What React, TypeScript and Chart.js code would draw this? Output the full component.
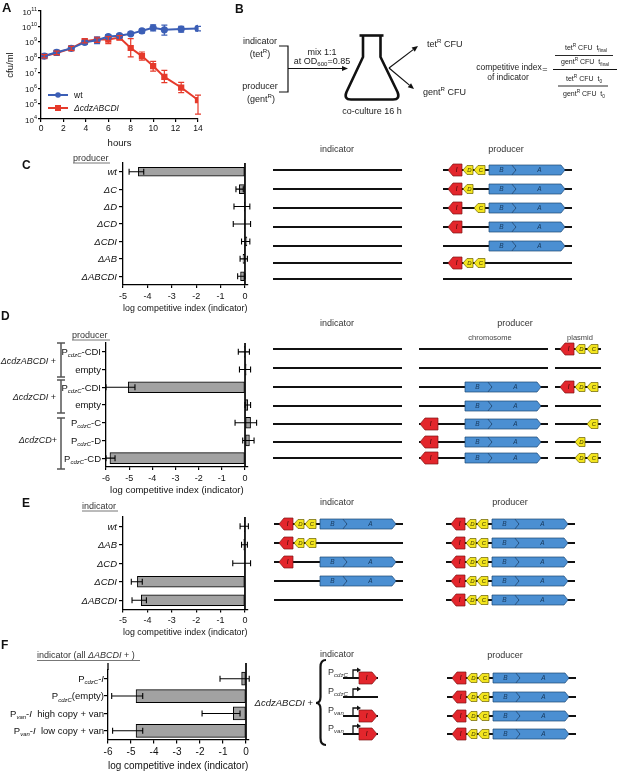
import React, { useEffect, useRef } from 'react';
import { Chart, registerables } from 'chart.js';

Chart.register(...registerables);

const FONT = '"Liberation Sans", Arial, Helvetica, sans-serif';
Chart.defaults.font.family = FONT;
Chart.defaults.color = '#000';

type Seg = { t: string; i?: boolean; sub?: boolean; sup?: boolean };

// ---------------- Panel A data ----------------
const hours = [0.3, 1.4, 2.7, 3.9, 5, 6, 7, 8, 9, 10, 11, 12.5, 14];
const wtCfu = [1.2e8, 2.1e8, 3.8e8, 9.3e8, 1.26e9, 2.2e9, 2.5e9, 3.3e9, 5.2e9, 8.2e9, 6.0e9, 6.7e9, 7.4e9];
const wtLow = [9.1e7, 1.5e8, 2.8e8, 6.9e8, 7.6e8, 1.66e9, 1.86e9, 2.6e9, 3.7e9, 5.2e9, 2.75e9, 4.3e9, 5.2e9];
const wtHigh = [1.5e8, 2.8e8, 5.1e8, 1.26e9, 2.0e9, 3.0e9, 3.2e9, 4.3e9, 6.6e9, 1.26e10, 1.2e10, 1.0e10, 1.0e10];
const mutCfu = [1.2e8, 1.9e8, 3.8e8, 1.1e9, 1.4e9, 1.4e9, 1.9e9, 4.0e8, 1.2e8, 2.7e7, 5.3e6, 1.1e6, 1.7e5];
const mutLow = [9.1e7, 1.5e8, 2.8e8, 8.5e8, 9.3e8, 7.6e8, 1.4e9, 1.07e8, 6.5e7, 1.26e7, 2.3e6, 5.1e5, 2.1e4];
const mutHigh = [1.5e8, 2.5e8, 5.1e8, 1.5e9, 1.8e9, 2.2e9, 2.5e9, 1.6e9, 2.2e8, 5.4e7, 1.4e7, 2.4e6, 3.5e5];
const aYTicks = [1e4, 1e5, 1e6, 1e7, 1e8, 1e9, 1e10, 1e11];
const aYExp = ['4', '5', '6', '7', '8', '9', '10', '11'];
const aSeriesNames = ['wt', 'ΔcdzABCDI'];

// ---------------- Panel C data ----------------
const cCategories = ['wt', 'ΔC', 'ΔD', 'ΔCD', 'ΔCDI', 'ΔAB', 'ΔABCDI'];
const cValues = [-4.37, -0.23, -0.02, -0.02, 0.08, -0.08, -0.18];
const cLow = [-4.75, -0.37, -0.45, -0.48, -0.14, -0.2, -0.3];
const cHigh = [-4.15, -0.07, 0.2, 0.23, 0.2, 0.1, 0.0];
const cTicks = [-5, -4, -3, -2, -1, 0];

// ---------------- Panel D data ----------------
const dCategories = ['PcdzC-CDI', 'empty', 'PcdzC-CDI ', 'empty ', 'PcdzC-C', 'PcdzC-D', 'PcdzC-CD'];
const dValues = [-0.03, 0.05, -5.04, 0.12, 0.24, 0.19, -5.83];
const dLow = [-0.29, -0.24, -6.0, 0.0, -0.43, -0.1, -6.0];
const dHigh = [0.19, 0.24, -4.75, 0.24, 0.5, 0.39, -5.61];
const dTicks = [-6, -5, -4, -3, -2, -1, 0];

// ---------------- Panel E data ----------------
const eCategories = ['wt', 'ΔAB', 'ΔCD', 'ΔCDI', 'ΔABCDI'];
const eValues = [-0.02, -0.05, 0, -4.41, -4.25];
const eLow = [-0.2, -0.14, -0.5, -4.66, -4.63];
const eHigh = [0.14, 0.1, 0.23, -4.21, -4.04];
const eTicks = [-5, -4, -3, -2, -1, 0];

// ---------------- Panel F data ----------------
const fCategories = ['PcdzC-I', 'PcdzC(empty)', 'Pvan-I high copy + van', 'Pvan-I low copy + van'];
const fValues = [-0.19, -4.78, -0.55, -4.78];
const fLow = [-1.13, -5.84, -1.91, -5.8];
const fHigh = [0.14, -4.49, -0.26, -4.49];
const fTicks = [-6, -5, -4, -3, -2, -1, 0];

const AXIS_TITLE = 'log competitive index (indicator)';

// rich tick labels
const cRich: Seg[][] = cCategories.map((c) => [{ t: c, i: true }]);
const eRich: Seg[][] = eCategories.map((c) => [{ t: c, i: true }]);
const dRich: Seg[][] = [
  [{ t: 'P' }, { t: 'cdzC', i: true, sub: true }, { t: '-CDI' }],
  [{ t: 'empty' }],
  [{ t: 'P' }, { t: 'cdzC', i: true, sub: true }, { t: '-CDI' }],
  [{ t: 'empty' }],
  [{ t: 'P' }, { t: 'cdzC', i: true, sub: true }, { t: '-C' }],
  [{ t: 'P' }, { t: 'cdzC', i: true, sub: true }, { t: '-D' }],
  [{ t: 'P' }, { t: 'cdzC', i: true, sub: true }, { t: '-CD' }],
];
const fRich: Seg[][] = [
  [{ t: 'P' }, { t: 'cdzC', i: true, sub: true }, { t: '-' }, { t: 'I', i: true }],
  [{ t: 'P' }, { t: 'cdzC', i: true, sub: true }, { t: '(empty)' }],
  [{ t: 'P' }, { t: 'van', i: true, sub: true }, { t: '-' }, { t: 'I', i: true }, { t: '  high copy + van' }],
  [{ t: 'P' }, { t: 'van', i: true, sub: true }, { t: '-' }, { t: 'I', i: true }, { t: '  low copy + van' }],
];

const BLUE = '#3c5fb6';
const RED = '#e63a2b';
const BAR = '#a2a2a2';

// ---------------- plugins ----------------
const errorBarPlugin = {
  id: 'errBars',
  afterDatasetsDraw(chart: any) {
    const ctx = chart.ctx;
    const horiz = chart.options.indexAxis === 'y';
    chart.data.datasets.forEach((ds: any, di: number) => {
      if (!ds.errLow) return;
      const meta = chart.getDatasetMeta(di);
      const vs = horiz ? chart.scales.x : chart.scales.y;
      const cap = ds.errCap || 3;
      ctx.save();
      ctx.strokeStyle = ds.errColor || '#000';
      ctx.lineWidth = ds.errWidth || 1;
      meta.data.forEach((el: any, i: number) => {
        const lo = vs.getPixelForValue(ds.errLow[i]);
        const hi = vs.getPixelForValue(ds.errHigh[i]);
        ctx.beginPath();
        if (horiz) {
          const y = el.y;
          ctx.moveTo(lo, y); ctx.lineTo(hi, y);
          ctx.moveTo(lo, y - cap); ctx.lineTo(lo, y + cap);
          ctx.moveTo(hi, y - cap); ctx.lineTo(hi, y + cap);
        } else {
          const x = el.x;
          ctx.moveTo(x, lo); ctx.lineTo(x, hi);
          ctx.moveTo(x - cap, lo); ctx.lineTo(x + cap, lo);
          ctx.moveTo(x - cap, hi); ctx.lineTo(x + cap, hi);
        }
        ctx.stroke();
      });
      ctx.restore();
    });
  },
};

function zeroLinePlugin(extendTop: number) {
  return {
    id: 'zeroLine',
    afterDatasetsDraw(chart: any) {
      const { ctx, chartArea } = chart;
      const x = chart.scales.x.getPixelForValue(0);
      const top = chartArea.top - extendTop;
      ctx.save();
      ctx.strokeStyle = '#000';
      ctx.lineWidth = 1.7;
      ctx.beginPath();
      ctx.moveTo(x, top);
      ctx.lineTo(x, chartArea.bottom);
      ctx.stroke();
      if (extendTop > 0) {
        ctx.lineWidth = 1.3;
        ctx.beginPath();
        ctx.moveTo(chartArea.left, top);
        ctx.lineTo(chartArea.left, chartArea.top);
        ctx.stroke();
      }
      ctx.restore();
    },
  };
}

function richLabelPlugin(labels: Seg[][], size: number, subSize: number, gap: number) {
  return {
    id: 'richLabels',
    afterDraw(chart: any) {
      const { ctx } = chart;
      const ys = chart.scales.y;
      const right = chart.chartArea.left - gap;
      const fontOf = (s: Seg) => `${s.i ? 'italic ' : ''}${s.sub ? subSize : size}px ${FONT}`;
      ctx.save();
      ctx.fillStyle = '#111';
      ctx.textBaseline = 'alphabetic';
      ctx.textAlign = 'left';
      labels.forEach((segs, i) => {
        const y = ys.getPixelForValue(i);
        let w = 0;
        segs.forEach((s) => { ctx.font = fontOf(s); w += ctx.measureText(s.t).width; });
        let x = right - w;
        segs.forEach((s) => {
          ctx.font = fontOf(s);
          ctx.fillText(s.t, x, y + size * 0.36 + (s.sub ? 2.2 : 0));
          x += ctx.measureText(s.t).width;
        });
      });
      ctx.restore();
    },
  };
}

function logLabelPlugin(ticks: number[], exps: string[]) {
  return {
    id: 'logLabels',
    afterDraw(chart: any) {
      const { ctx } = chart;
      const ys = chart.scales.y;
      const right = chart.chartArea.left - 4;
      ctx.save();
      ctx.fillStyle = '#111';
      ctx.textAlign = 'left';
      ctx.textBaseline = 'alphabetic';
      ticks.forEach((v, i) => {
        const py = ys.getPixelForValue(v);
        ctx.font = `8px ${FONT}`;
        const wb = ctx.measureText('10').width;
        ctx.font = `5.5px ${FONT}`;
        const we = ctx.measureText(exps[i]).width;
        const x0 = right - wb - we;
        ctx.font = `8px ${FONT}`;
        ctx.fillText('10', x0, py + 3.5);
        ctx.font = `5.5px ${FONT}`;
        ctx.fillText(exps[i], x0 + wb, py - 0.5);
      });
      ctx.restore();
    },
  };
}

const legendAPlugin = {
  id: 'legendA',
  afterDraw(chart: any) {
    const { ctx, chartArea } = chart;
    const x0 = chartArea.left + 7;
    const rows = [95, 108];
    chart.data.datasets.forEach((ds: any, i: number) => {
      const y = rows[i];
      ctx.save();
      ctx.strokeStyle = ds.borderColor;
      ctx.fillStyle = ds.borderColor;
      ctx.lineWidth = 2;
      ctx.beginPath();
      ctx.moveTo(x0, y);
      ctx.lineTo(x0 + 20, y);
      ctx.stroke();
      if (ds.pointStyle === 'rect') ctx.fillRect(x0 + 10 - 3, y - 3, 6, 6);
      else { ctx.beginPath(); ctx.arc(x0 + 10, y, 2.8, 0, Math.PI * 2); ctx.fill(); }
      ctx.fillStyle = '#111';
      ctx.font = `${i === 1 ? 'italic ' : ''}8.5px ${FONT}`;
      ctx.textBaseline = 'middle';
      ctx.fillText(aSeriesNames[i], x0 + 26, y + 0.5);
      ctx.restore();
    });
  },
};

// ---------------- configs ----------------
function configA(): any {
  return {
    type: 'line',
    data: {
      datasets: [
        {
          label: aSeriesNames[0],
          data: hours.map((h, i) => ({ x: h, y: wtCfu[i] })),
          borderColor: BLUE, backgroundColor: BLUE, pointBackgroundColor: BLUE, pointBorderColor: BLUE,
          pointStyle: 'circle', pointRadius: 2.6, borderWidth: 2,
          errLow: wtLow, errHigh: wtHigh, errColor: BLUE, errWidth: 1.2, errCap: 3,
        },
        {
          label: aSeriesNames[1],
          data: hours.map((h, i) => ({ x: h, y: mutCfu[i] })),
          borderColor: RED, backgroundColor: RED, pointBackgroundColor: RED, pointBorderColor: RED,
          pointStyle: 'rect', pointRadius: 3, borderWidth: 2,
          errLow: mutLow, errHigh: mutHigh, errColor: RED, errWidth: 1.2, errCap: 3,
        },
      ],
    },
    options: {
      animation: false, responsive: false, maintainAspectRatio: false,
      layout: { padding: { top: 11, right: 17, left: 0, bottom: 0 } },
      plugins: { legend: { display: false }, tooltip: { enabled: false } },
      scales: {
        x: {
          type: 'linear', min: 0, max: 14,
          ticks: { stepSize: 2, font: { size: 8.5, family: FONT }, color: '#111', padding: 2 },
          grid: { drawOnChartArea: false, tickLength: 3, color: '#000', lineWidth: 1.2 },
          border: { color: '#000', width: 1.3 },
          title: { display: true, text: 'hours', font: { size: 9.5, family: FONT }, color: '#111', padding: { top: 0, bottom: 1 } },
          afterFit: (s: any) => { s.height = 31; },
        },
        y: {
          type: 'logarithmic', min: 1e4, max: 1e11,
          afterBuildTicks: (ax: any) => { ax.ticks = aYTicks.map((v) => ({ value: v })); },
          ticks: { display: false },
          grid: { drawOnChartArea: false, tickLength: 3, color: '#000', lineWidth: 1.2 },
          border: { color: '#000', width: 1.3 },
          title: { display: true, text: 'cfu/ml', font: { size: 9.5, family: FONT }, color: '#111', padding: { top: 4.3, bottom: 0 } },
          afterFit: (s: any) => { s.width = 41; },
        },
      },
    },
    plugins: [errorBarPlugin, logLabelPlugin(aYTicks, aYExp), legendAPlugin],
  };
}

function barConfig(p: any): any {
  return {
    type: 'bar',
    data: {
      labels: p.categories,
      datasets: [{
        data: p.values, backgroundColor: BAR, borderColor: '#000', borderWidth: 1,
        borderSkipped: false, barThickness: p.barThickness, clip: false,
        errLow: p.low, errHigh: p.high, errCap: 3, errWidth: 1.1,
      }],
    },
    options: {
      indexAxis: 'y', animation: false, responsive: false, maintainAspectRatio: false,
      layout: { padding: { top: p.padTop, right: p.padRight, left: 0, bottom: 0 } },
      plugins: { legend: { display: false }, tooltip: { enabled: false } },
      scales: {
        x: {
          type: 'linear', min: p.min, max: p.max,
          afterBuildTicks: (ax: any) => { ax.ticks = p.xTicks.map((v: number) => ({ value: v })); },
          ticks: { font: { size: p.tickSize, family: FONT }, color: '#111', padding: p.tickPad },
          grid: { drawOnChartArea: false, tickLength: p.tickLength, color: '#000', lineWidth: 1.2 },
          border: { color: '#000', width: 1.3 },
          title: {
            display: true, text: AXIS_TITLE,
            font: { size: p.titleSize, family: FONT, lineHeight: p.titleLH }, color: '#111',
            padding: { top: 0, bottom: p.titlePadBottom },
          },
          afterFit: (s: any) => { s.height = p.xHeight; },
        },
        y: {
          type: 'category', offset: true,
          ticks: { display: false },
          grid: { drawOnChartArea: false, offset: false, tickLength: 4, color: '#000', lineWidth: 1.2 },
          border: { color: '#000', width: 1.3 },
          afterFit: (s: any) => { s.width = p.yWidth; },
        },
      },
    },
    plugins: [errorBarPlugin, zeroLinePlugin(p.extendTop || 0), richLabelPlugin(p.rich, p.labelSize, p.subSize, p.labelGap)],
  };
}

const configC = () => barConfig({
  categories: cCategories, values: cValues, low: cLow, high: cHigh, rich: cRich, xTicks: cTicks,
  min: -5, max: 0.1, yWidth: 123, padTop: 8, padRight: 14.6, xHeight: 30, barThickness: 9,
  tickSize: 9, tickPad: 3, tickLength: 3, titleSize: 9.5, titleLH: 1.2, titlePadBottom: 1.3,
  labelSize: 9.5, subSize: 6, labelGap: 6,
});
const configD = () => barConfig({
  categories: dCategories, values: dValues, low: dLow, high: dHigh, rich: dRich, xTicks: dTicks,
  min: -6, max: 0.12, yWidth: 106, padTop: 8, padRight: 14.2, xHeight: 30, barThickness: 11,
  tickSize: 9, tickPad: 3, tickLength: 3, titleSize: 9.5, titleLH: 1.2, titlePadBottom: 1.3,
  labelSize: 9.5, subSize: 6, labelGap: 5,
});
const configE = () => barConfig({
  categories: eCategories, values: eValues, low: eLow, high: eHigh, rich: eRich, xTicks: eTicks,
  min: -5, max: 0.1, yWidth: 123, padTop: 8, padRight: 14.6, xHeight: 30.5, barThickness: 11,
  tickSize: 9, tickPad: 3, tickLength: 3, titleSize: 9.5, titleLH: 1.2, titlePadBottom: 1.8,
  labelSize: 9.5, subSize: 6, labelGap: 6,
});
const configF = () => barConfig({
  categories: fCategories, values: fValues, low: fLow, high: fHigh, rich: fRich, xTicks: fTicks,
  min: -6, max: 0.1, yWidth: 108, padTop: 15, padRight: 13.7, xHeight: 31.5, barThickness: 13,
  tickSize: 10, tickPad: 3, tickLength: 4, titleSize: 10, titleLH: 1, titlePadBottom: 0,
  labelSize: 9.5, subSize: 6, labelGap: 4, extendTop: 7,
});

function ChartCanvas({ make, left, top, width, height }: any) {
  const ref = useRef<HTMLCanvasElement>(null);
  useEffect(() => {
    const chart = new Chart(ref.current as HTMLCanvasElement, make());
    return () => chart.destroy();
  }, []);
  return (
    <canvas ref={ref} width={width} height={height}
      style={{ position: 'absolute', left, top, width, height }} />
  );
}

// ---------------- SVG helpers ----------------
function RT({ x, y, segs, size = 9, anchor = 'start', fill = '#222', weight = 'normal' }: any) {
  let cur = 0;
  const spans = segs.map((s: Seg, k: number) => {
    const target = s.sup ? -size * 0.4 : s.sub ? size * 0.25 : 0;
    const dy = target - cur;
    cur = target;
    return (
      <tspan key={k} dy={dy} fontSize={s.sup || s.sub ? size * 0.68 : size} fontStyle={s.i ? 'italic' : 'normal'}>{s.t}</tspan>
    );
  });
  return (
    <text x={x} y={y} fontSize={size} textAnchor={anchor} fill={fill} fontFamily={FONT} fontWeight={weight} style={{ whiteSpace: 'pre' }}>{spans}</text>
  );
}

const GC: any = {
  red: { fill: '#e3262c', stroke: '#7d1414', text: '#3a0606' },
  yellow: { fill: '#f3e51e', stroke: '#6a6000', text: '#3f3900' },
  blue: { fill: '#4b8fd2', stroke: '#1e4874', text: '#17395d' },
};

function GeneL({ x1, x2, y, h, tip, c, letter, fs = 6.5 }: any) {
  const pts = `${x1},${y} ${x1 + tip},${y - h / 2} ${x2},${y - h / 2} ${x2},${y + h / 2} ${x1 + tip},${y + h / 2}`;
  return (
    <g>
      <polygon points={pts} fill={GC[c].fill} stroke={GC[c].stroke} strokeWidth={0.7} />
      <text x={(x1 + tip * 0.7 + x2) / 2} y={y + fs * 0.36} fontSize={fs} fontStyle="italic" textAnchor="middle" fill={GC[c].text} fontFamily={FONT}>{letter}</text>
    </g>
  );
}

function GeneR({ x1, x2, y, h, tip, c, letter, notch = 0, fs = 6.5 }: any) {
  const pts = `${x1},${y - h / 2} ${x2 - tip},${y - h / 2} ${x2},${y} ${x2 - tip},${y + h / 2} ${x1},${y + h / 2} ${x1 + notch},${y}`;
  return (
    <g>
      <polygon points={pts} fill={GC[c].fill} stroke={GC[c].stroke} strokeWidth={0.7} />
      <text x={(x1 + notch + x2 - tip * 0.5) / 2} y={y + fs * 0.36} fontSize={fs} fontStyle="italic" textAnchor="middle" fill={GC[c].text} fontFamily={FONT}>{letter}</text>
    </g>
  );
}

function Cluster({ x0, y, genes, len = 129, iOff = [5, 19] }: any) {
  const has = (g: string) => genes.includes(g);
  return (
    <g>
      <line x1={x0} y1={y} x2={x0 + len} y2={y} stroke="#111" strokeWidth={1.8} />
      {has('B') && <GeneR x1={x0 + 46} x2={x0 + 73} y={y} h={10} tip={4} c="blue" letter="B" />}
      {has('A') && <GeneR x1={x0 + 69} x2={x0 + 122} y={y} h={10} tip={4} notch={4} c="blue" letter="A" />}
      {has('C') && <GeneL x1={x0 + 31} x2={x0 + 42} y={y} h={9} tip={4} c="yellow" letter="C" fs={6} />}
      {has('D') && <GeneL x1={x0 + 20} x2={x0 + 30} y={y} h={9} tip={4} c="yellow" letter="D" fs={6} />}
      {has('I') && <GeneL x1={x0 + iOff[0]} x2={x0 + iOff[1]} y={y} h={12} tip={5} c="red" letter="I" />}
    </g>
  );
}

function Arrow({ x1, y1, x2, y2, w = 1.2, head = 6 }: any) {
  const a = Math.atan2(y2 - y1, x2 - x1);
  const bx = x2 - head * Math.cos(a);
  const by = y2 - head * Math.sin(a);
  const px = 2.6 * Math.sin(a);
  const py = -2.6 * Math.cos(a);
  return (
    <g>
      <line x1={x1} y1={y1} x2={bx} y2={by} stroke="#111" strokeWidth={w} />
      <polygon points={`${x2},${y2} ${bx + px},${by + py} ${bx - px},${by - py}`} fill="#111" />
    </g>
  );
}

function Header({ x, y, segs, x2 }: any) {
  return (
    <g>
      <RT x={x} y={y} segs={segs} size={9} fill="#333" />
      <line x1={x} y1={y + 2.5} x2={x2} y2={y + 2.5} stroke="#777" strokeWidth={1} />
    </g>
  );
}

function Bracket({ x, y1, y2 }: any) {
  return (
    <g stroke="#555" strokeWidth={1.5}>
      <line x1={x} y1={y1} x2={x} y2={y2} />
      <line x1={x - 4} y1={y1} x2={x + 4} y2={y1} />
      <line x1={x - 4} y1={y2} x2={x + 4} y2={y2} />
    </g>
  );
}

function Overlay() {
  const cRows = [170, 189, 208, 227, 246, 263, 279];
  const cProd = [['I', 'D', 'C', 'B', 'A'], ['I', 'D', 'B', 'A'], ['I', 'C', 'B', 'A'], ['I', 'B', 'A'], ['B', 'A'], ['I', 'D', 'C'], []];
  const dRows = [349, 368, 387, 406, 424, 442, 458];
  const dChrom = [[], [], ['B', 'A'], ['B', 'A'], ['I', 'B', 'A'], ['I', 'B', 'A'], ['I', 'B', 'A']];
  const dPlas = [['I', 'D', 'C'], [], ['I', 'D', 'C'], [], ['C'], ['D'], ['D', 'C']];
  const eRows = [524, 543, 562, 581, 600];
  const eInd = [['I', 'D', 'C', 'B', 'A'], ['I', 'D', 'C'], ['I', 'B', 'A'], ['B', 'A'], []];
  const fRows = [678, 697, 716, 734];
  const fProm = ['cdzC', 'cdzC', 'van', 'van'];
  const fHasI = [true, false, true, true];
  const full = ['I', 'D', 'C', 'B', 'A'];
  const hdr = (t: string) => [{ t }];

  return (
    <svg width={617} height={771} style={{ position: 'absolute', left: 0, top: 0, pointerEvents: 'none' }}>
      {/* panel letters */}
      <RT x={2} y={12} segs={hdr('A')} size={13} weight="bold" fill="#111" />
      <RT x={235} y={13} segs={hdr('B')} size={12} weight="bold" fill="#111" />
      <RT x={22} y={169} segs={hdr('C')} size={12} weight="bold" fill="#111" />
      <RT x={1} y={320} segs={hdr('D')} size={12} weight="bold" fill="#111" />
      <RT x={22} y={507} segs={hdr('E')} size={12} weight="bold" fill="#111" />
      <RT x={1} y={649} segs={hdr('F')} size={12} weight="bold" fill="#111" />

      {/* panel B */}
      <RT x={260} y={44} segs={hdr('indicator')} anchor="middle" />
      <RT x={260} y={57} segs={[{ t: '(tet' }, { t: 'R', sup: true }, { t: ')' }]} anchor="middle" />
      <RT x={260} y={89} segs={hdr('producer')} anchor="middle" />
      <RT x={261} y={102} segs={[{ t: '(gent' }, { t: 'R', sup: true }, { t: ')' }]} anchor="middle" />
      <polyline points="279,46 288,46 288,92 279,92" fill="none" stroke="#111" strokeWidth={1.2} />
      <Arrow x1={288} y1={68.5} x2={348} y2={68.5} />
      <RT x={322} y={55} segs={hdr('mix 1:1')} anchor="middle" />
      <RT x={322} y={64} segs={[{ t: 'at OD' }, { t: '600', sub: true }, { t: '=0.85' }]} anchor="middle" />
      <line x1={359.5} y1={35.5} x2={383.5} y2={35.5} stroke="#111" strokeWidth={2.6} />
      <path d="M 363 36 L 363 57 L 346.5 92 Q 343.5 99.5 351 99.5 L 393 99.5 Q 400.5 99.5 397.5 92 L 380.5 57 L 380.5 36"
        fill="none" stroke="#111" strokeWidth={2.6} strokeLinejoin="round" />
      <RT x={372} y={114} segs={hdr('co-culture 16 h')} anchor="middle" />
      <Arrow x1={389} y1={68} x2={418} y2={46} />
      <Arrow x1={389} y1={68} x2={414} y2={89} />
      <RT x={427} y={47} segs={[{ t: 'tet' }, { t: 'R', sup: true }, { t: ' CFU' }]} />
      <RT x={423} y={95} segs={[{ t: 'gent' }, { t: 'R', sup: true }, { t: ' CFU' }]} />
      <RT x={509} y={70} segs={hdr('competitive index')} anchor="middle" size={8.5} />
      <RT x={508} y={80} segs={hdr('of indicator')} anchor="middle" size={8.5} />
      <RT x={545} y={72} segs={hdr('=')} anchor="middle" size={9} />
      <line x1={553} y1={69.5} x2={617} y2={69.5} stroke="#111" strokeWidth={1.1} />
      <RT x={586} y={50} segs={[{ t: 'tet' }, { t: 'R', sup: true }, { t: ' CFU  t' }, { t: 'final', sub: true }]} anchor="middle" size={7} />
      <line x1={555} y1={55.5} x2={613} y2={55.5} stroke="#111" strokeWidth={0.9} />
      <RT x={585} y={64} segs={[{ t: 'gent' }, { t: 'R', sup: true }, { t: ' CFU  t' }, { t: 'final', sub: true }]} anchor="middle" size={7} />
      <RT x={584} y={81} segs={[{ t: 'tet' }, { t: 'R', sup: true }, { t: ' CFU  t' }, { t: '0', sub: true }]} anchor="middle" size={7} />
      <line x1={558} y1={86} x2={608} y2={86} stroke="#111" strokeWidth={0.9} />
      <RT x={584} y={96} segs={[{ t: 'gent' }, { t: 'R', sup: true }, { t: ' CFU  t' }, { t: '0', sub: true }]} anchor="middle" size={7} />

      {/* panel C */}
      <Header x={73} y={160.5} x2={110} segs={hdr('producer')} />
      <RT x={337} y={152} segs={hdr('indicator')} anchor="middle" fill="#333" />
      <RT x={506} y={152} segs={hdr('producer')} anchor="middle" fill="#333" />
      {cRows.map((y, i) => (
        <g key={'c' + i}>
          <line x1={273} y1={y} x2={402} y2={y} stroke="#111" strokeWidth={1.8} />
          <Cluster x0={443} y={y} genes={cProd[i]} />
        </g>
      ))}

      {/* panel D */}
      <Header x={72} y={337.5} x2={110} segs={hdr('producer')} />
      <RT x={56} y={364} segs={[{ t: 'ΔcdzABCDI', i: true }, { t: ' +' }]} anchor="end" size={9} fill="#222" />
      <RT x={56} y={400} segs={[{ t: 'ΔcdzCDI', i: true }, { t: ' +' }]} anchor="end" size={9} fill="#222" />
      <RT x={57} y={443} segs={[{ t: 'ΔcdzCD', i: true }, { t: '+' }]} anchor="end" size={9} fill="#222" />
      <Bracket x={61} y1={343} y2={377} />
      <Bracket x={61} y1={380} y2={413} />
      <Bracket x={61} y1={418} y2={469} />
      <RT x={337} y={326} segs={hdr('indicator')} anchor="middle" fill="#333" />
      <RT x={515} y={326} segs={hdr('producer')} anchor="middle" fill="#333" />
      <RT x={490} y={340} segs={hdr('chromosome')} anchor="middle" size={7.5} fill="#444" />
      <RT x={580} y={340} segs={hdr('plasmid')} anchor="middle" size={7.5} fill="#444" />
      {dRows.map((y, i) => (
        <g key={'d' + i}>
          <line x1={273} y1={y} x2={402} y2={y} stroke="#111" strokeWidth={1.8} />
          <Cluster x0={419} y={y} genes={dChrom[i]} iOff={[1, 19]} />
          <line x1={555} y1={y} x2={601} y2={y} stroke="#111" strokeWidth={1.8} />
          {dPlas[i].includes('C') && <GeneL x1={587} x2={598} y={y} h={9} tip={4} c="yellow" letter="C" fs={6} />}
          {dPlas[i].includes('D') && <GeneL x1={575} x2={585} y={y} h={9} tip={4} c="yellow" letter="D" fs={6} />}
          {dPlas[i].includes('I') && <GeneL x1={560} x2={574} y={y} h={12} tip={5} c="red" letter="I" />}
        </g>
      ))}

      {/* panel E */}
      <Header x={82} y={508.5} x2={118} segs={hdr('indicator')} />
      <RT x={337} y={505} segs={hdr('indicator')} anchor="middle" fill="#333" />
      <RT x={510} y={505} segs={hdr('producer')} anchor="middle" fill="#333" />
      {eRows.map((y, i) => (
        <g key={'e' + i}>
          <Cluster x0={274} y={y} genes={eInd[i]} />
          <Cluster x0={446} y={y} genes={full} />
        </g>
      ))}

      {/* panel F */}
      <Header x={37} y={658} x2={140} segs={[{ t: 'indicator (all ' }, { t: 'ΔABCDI', i: true }, { t: ' + )' }]} />
      <RT x={337} y={657} segs={hdr('indicator')} anchor="middle" fill="#333" />
      <RT x={505} y={658} segs={hdr('producer')} anchor="middle" fill="#333" />
      <RT x={313} y={706} segs={[{ t: 'ΔcdzABCDI', i: true }, { t: ' +' }]} anchor="end" size={9.5} fill="#222" />
      <path d="M 326 660 Q 320.5 660 320.5 667 L 320.5 697 Q 320.5 703 316 703 Q 320.5 703 320.5 709 L 320.5 738 Q 320.5 745 326 745"
        fill="none" stroke="#111" strokeWidth={2.2} />
      {fRows.map((y, i) => (
        <g key={'f' + i}>
          <RT x={328} y={y - 3} segs={[{ t: 'P' }, { t: fProm[i], i: true, sub: true }]} size={9} fill="#333" />
          <line x1={343} y1={y} x2={378} y2={y} stroke="#111" strokeWidth={1.8} />
          <polyline points={`${353},${y} ${353},${y - 8} ${358},${y - 8}`} fill="none" stroke="#111" strokeWidth={1.3} />
          <polygon points={`${361},${y - 8} ${357},${y - 10.5} ${357},${y - 5.5}`} fill="#111" />
          {fHasI[i] && <GeneR x1={359} x2={377} y={y} h={12} tip={5} c="red" letter="I" />}
          <Cluster x0={447} y={y} genes={full} />
        </g>
      ))}
    </svg>
  );
}

export default function App() {
  return (
    <div style={{ position: 'absolute', left: 0, top: 0, width: 617, height: 771, background: '#fff', overflow: 'hidden', fontFamily: FONT }}>
      <ChartCanvas make={configA} left={0} top={0} width={215} height={150} />
      <ChartCanvas make={configC} left={0} top={155} width={262} height={160} />
      <ChartCanvas make={configD} left={0} top={335} width={262} height={162} />
      <ChartCanvas make={configE} left={0} top={509} width={262} height={131} />
      <ChartCanvas make={configF} left={0} top={655} width={262} height={116} />
      <Overlay />
    </div>
  );
}
